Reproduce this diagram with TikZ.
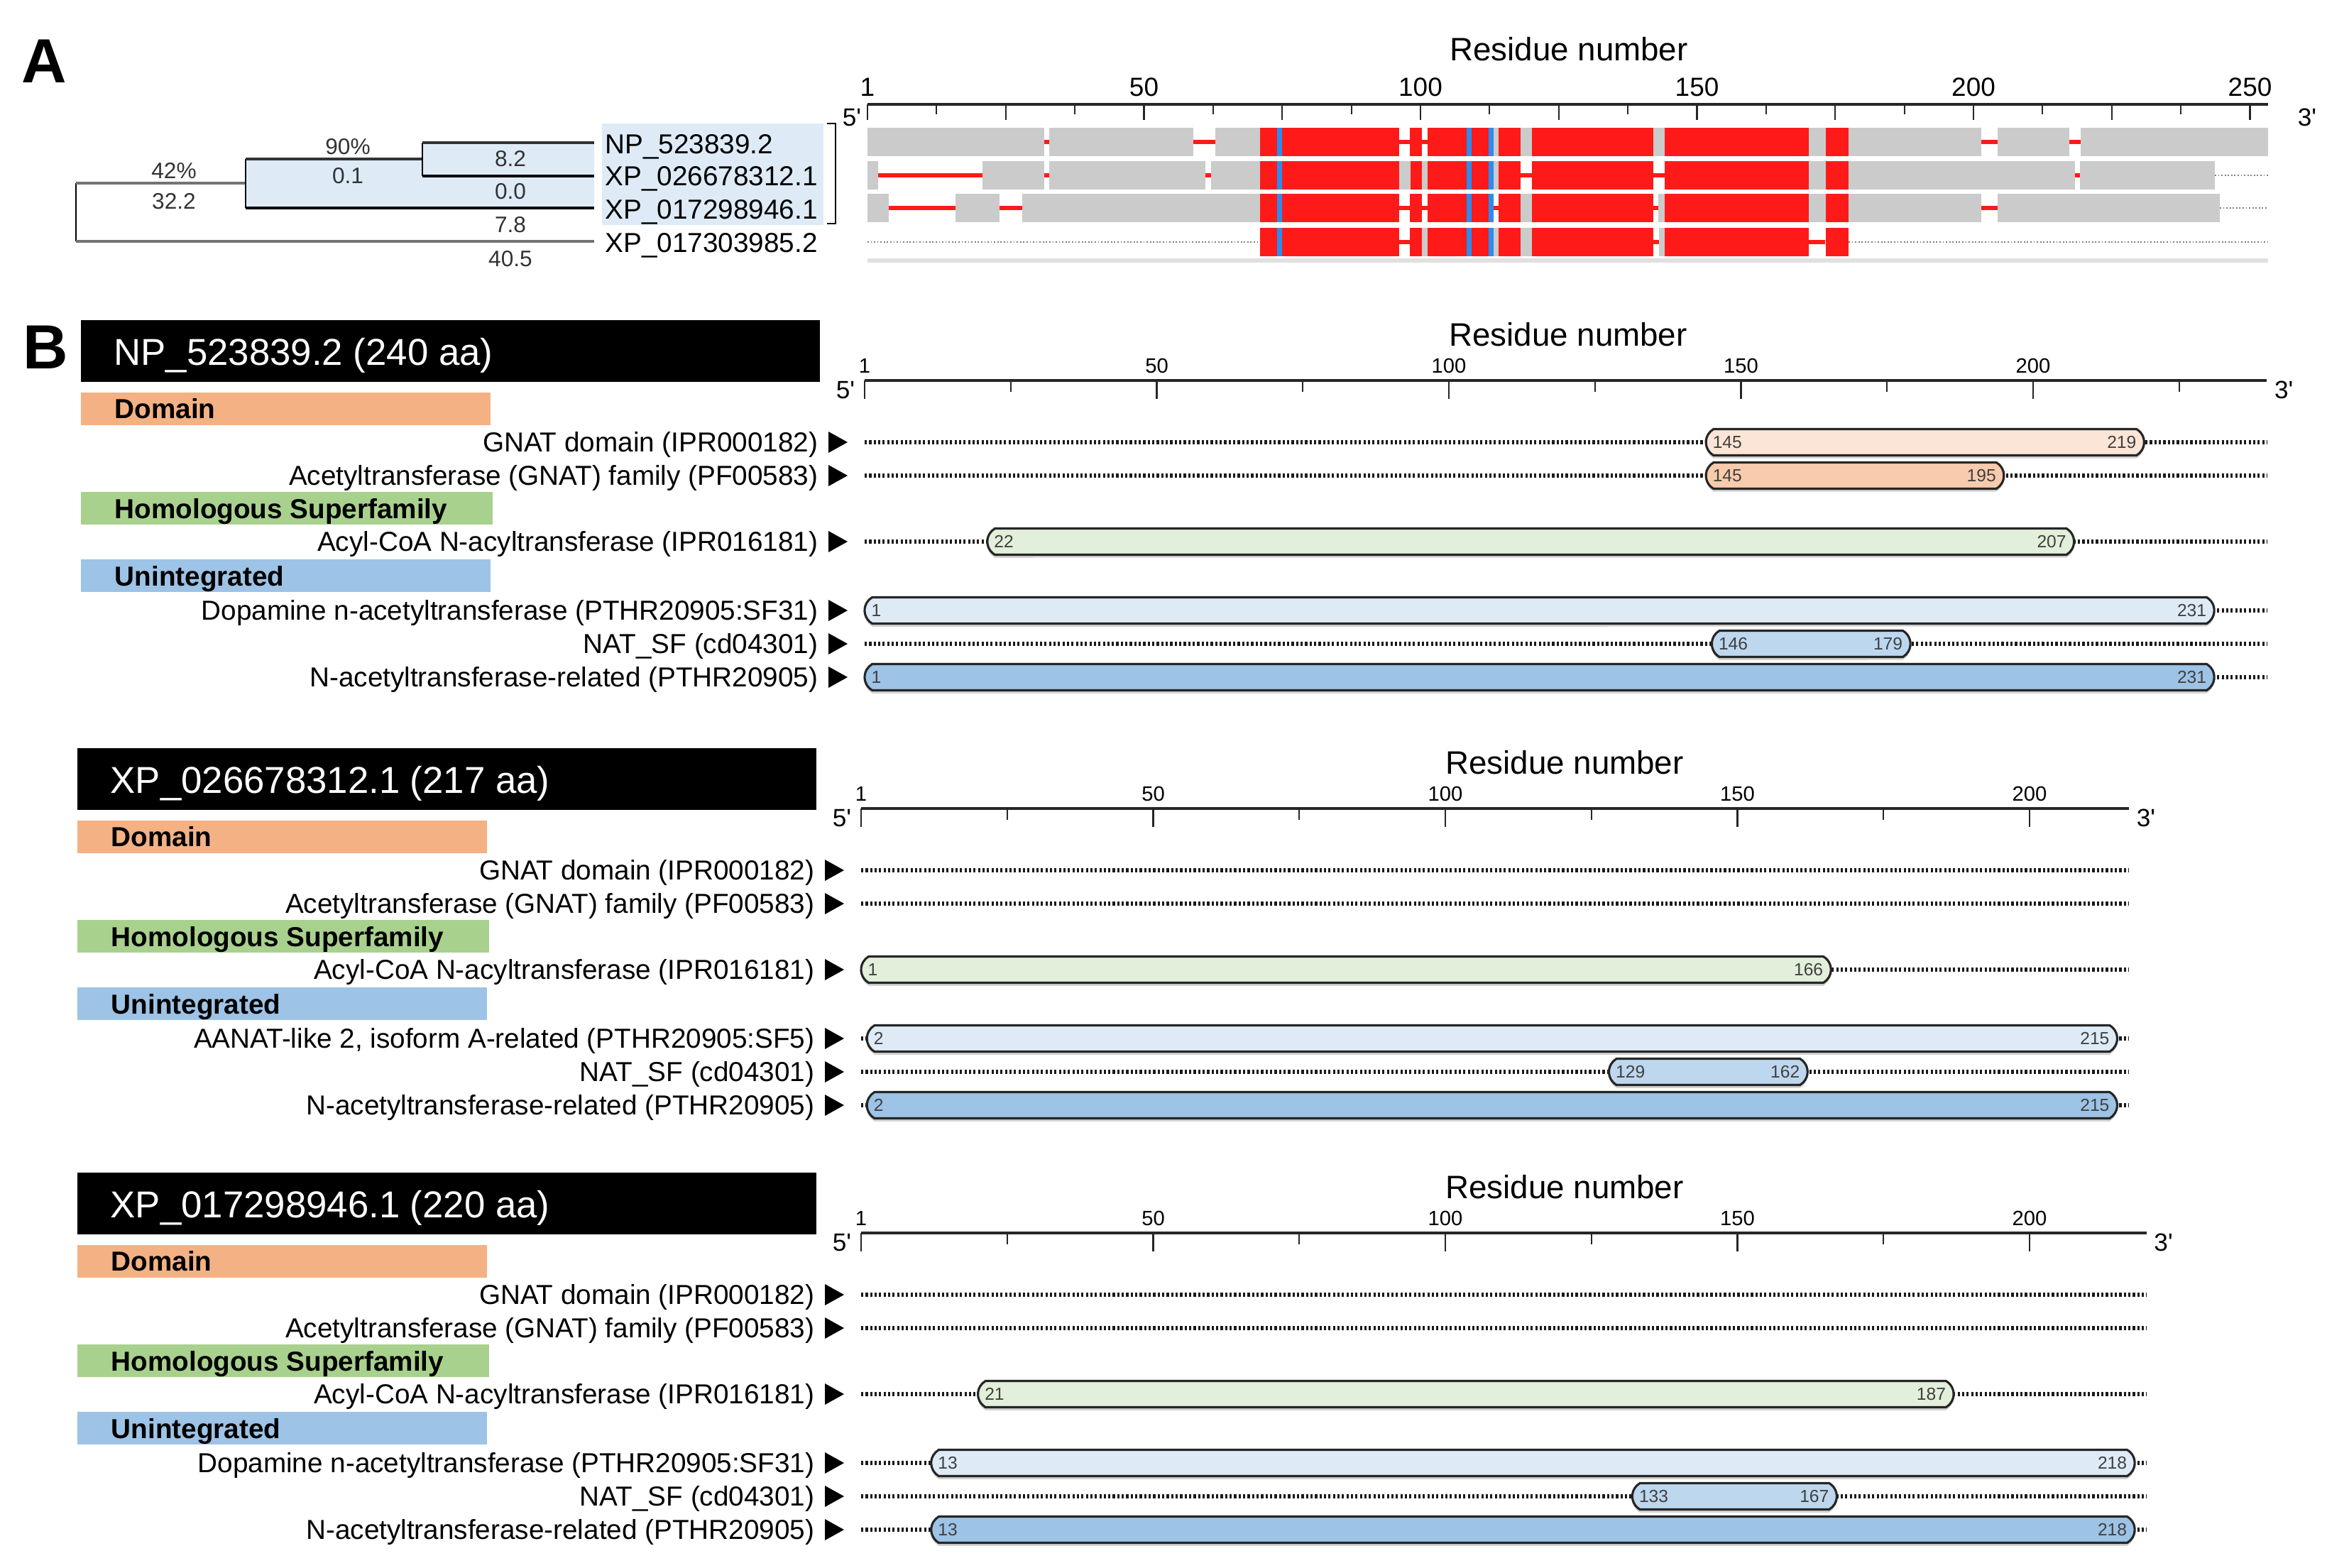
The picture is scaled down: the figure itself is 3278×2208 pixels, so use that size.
\documentclass[tikz,border=0pt]{standalone}
\usepackage{fontspec}
\setmainfont{Liberation Sans}
\usetikzlibrary{shapes.misc,shadows}

\definecolor{domorange}{HTML}{F4B183}
\definecolor{homgreen}{HTML}{A9D18E}
\definecolor{unblue}{HTML}{9DC3E6}
\definecolor{gnatbar}{HTML}{FBE5D6}
\definecolor{pfambar}{HTML}{F8CBAD}
\definecolor{acylbar}{HTML}{E2EFDA}
\definecolor{sfbar}{HTML}{DEEBF7}
\definecolor{natbar}{HTML}{BDD7EE}
\definecolor{pthrbar}{HTML}{9DC3E6}
\definecolor{alnred}{HTML}{FF1A1A}
\definecolor{alngray}{HTML}{CBCBCB}
\definecolor{alnblue}{HTML}{2B8CF0}
\definecolor{treeblue}{HTML}{DEEBF7}

\tikzset{
  txt/.style 2 args={font=\fontsize{#1}{#1}\selectfont, text height=#2, text depth=0pt, inner sep=0pt},
  letter/.style={txt={25}{17.9pt}, font=\fontsize{25}{25}\selectfont\bfseries},
  treelbl/.style={txt={11}{7.9pt}, anchor=west},
  brnum/.style={txt={9}{6.4pt}, text=black!80},
  head/.style={txt={15}{10.7pt}, text=white, anchor=west},
  cat/.style={txt={11}{7.9pt}, font=\fontsize{11}{11}\selectfont\bfseries, anchor=west},
  rowlbl/.style={txt={11}{7.9pt}, anchor=east},
  ticklbl/.style={txt={8.3}{5.9pt}},
  ticklblA/.style={txt={10.5}{7.5pt}},
  axtitle/.style={txt={13}{9.3pt}},
  endlbl/.style={txt={10}{7.2pt}},
  barnum/.style={txt={7}{5pt}, text=black!75},
  axisline/.style={line width=1.4pt, black!85},
  tick/.style={line width=0.6pt, black!85},
  track/.style={line width=1.5pt, black!90, dash pattern=on 0.9pt off 0.9pt},
  alndot/.style={line width=0.8pt, black!50, dash pattern=on 0.5pt off 0.8pt},
  bar/.style={rounded rectangle, rounded rectangle arc length=120, draw=black!85,
    line width=0.9pt, minimum height=0.37cm, inner sep=0pt,
    drop shadow={shadow xshift=0pt, shadow yshift=-1.2pt, fill=black!35}},
  brgray/.style={line width=1.3pt, black!55},
  brdark/.style={line width=1pt, black!80},
  brblack/.style={line width=0.9pt, black},
  brthin/.style={line width=0.6pt, black}
}

% one row of the alignment: y, grey blocks, gaps
\newcommand{\alnrow}[3]{%
  \foreach \a/\b in {#2} \fill[alngray] (\a,#1-20) rectangle (\b,#1+20);
  \foreach \a/\b in {#3} \fill[alnred] (\a,#1-3) rectangle (\b,#1+3);
  \foreach \x in {1802,2069,2100} \fill[alnblue] (\x-3.5,#1-20) rectangle (\x+3.5,#1+20);}

% header and category boxes of one protein
\newcommand{\protblock}[2]{%
  \fill (109,0) rectangle (1150,87);
  \node[head] (#1head) at (155,45) {#2};
  \fill[domorange] (109,102) rectangle (686,148);
  \node[cat] (#1dom) at (156,125) {Domain};
  \fill[homgreen] (109,242) rectangle (689,288);
  \node[cat] (#1hom) at (156,266) {Homologous Superfamily};
  \fill[unblue] (109,337) rectangle (686,383);
  \node[cat] (#1uni) at (156,361) {Unintegrated};}

% residue axis: prefix, length, last short tick
\newcommand{\resaxis}[3]{%
  \pgfmathsetmacro{\xe}{1213+8.23*#2}
  \node[axtitle] (#1title) at (2204,20) {Residue number};
  \coordinate (#1ax0) at (1213,85);
  \coordinate (#1ax1) at (\xe,85);
  \draw[axisline] (#1ax0) -- (#1ax1);
  \draw[tick] (#1ax0) -- ++(0,26);
  \foreach \r in {50,100,150,200} \draw[tick] (1213+8.23*\r,85) -- ++(0,26);
  \foreach \r in {25,75,...,#3} \draw[tick] (1213+8.23*\r,85) -- ++(0,16);
  \node[ticklbl] (#1t1) at (1213,64) {1};
  \foreach \r in {50,100,150,200} \node[ticklbl] (#1t\r) at (1213+8.23*\r,64) {\r};
  \node[endlbl] (#1five) at (1186,98) {5\textquotesingle};
  \node[endlbl] (#1three) at (\xe+24,98) {3\textquotesingle};}

% label, marker and dotted track of one row
\newcommand{\featrow}[4]{%
  \node[rowlbl] (#1) at (1148,#2) {#3};
  \fill (1162,#2-15) -- (1189,#2) -- (1162,#2+15) -- cycle;
  \coordinate (#1a) at (1213,#2);
  \coordinate (#1b) at (1213+8.23*#4,#2);
  \draw[track] (#1a) -- (#1b);}

% feature bar: name, y, first, last, colour
\newcommand{\feat}[5]{%
  \pgfmathsetmacro{\xa}{1213+8.23*(#3-1)}
  \pgfmathsetmacro{\xb}{1213+8.23*#4}
  \pgfmathsetmacro{\wbar}{0.01*(\xb-\xa)}
  \node[bar, fill=#5, minimum width=\wbar cm] (#1) at ({(\xa+\xb)/2},#2) {};
  \node[barnum, anchor=west] (#1s) at ([xshift=3pt]#1.west) {#3};
  \node[barnum, anchor=east] (#1e) at ([xshift=-3.4pt]#1.east) {#4};}

\begin{document}
\begin{tikzpicture}[x=0.01cm, y=-0.01cm]
\useasboundingbox (0,0) rectangle (3278,2208);

\node[letter] (pA) at (62,85) {A};
\node[letter] (pB) at (64,488) {B};

% A: tree
\fill[treeblue] (346,224) -- (595,224) -- (595,201) -- (837,201) -- (837,293) -- (346,293) -- cycle;
\fill[treeblue] (848,174) rectangle (1160,317);
\coordinate (n0) at (107,258);
\coordinate (n0b) at (107,340);
\coordinate (n1) at (346,258);
\coordinate (n2) at (595,224);
\coordinate (e1) at (837,201);
\coordinate (e2) at (837,248);
\coordinate (e3) at (837,293);
\coordinate (e4) at (837,340);
\draw[brthin] (n0) -- (n0b);
\draw[brgray] (n0) -- (n1);
\draw[brgray] (n0b) -- (e4);
\draw[brthin] (n1 |- n2) -- (n1 |- e3);
\draw[brdark] (n1 |- n2) -- (n2);
\draw[brblack] (n1 |- e3) -- (e3);
\draw[brthin] (n2 |- e1) -- (n2 |- e2);
\draw[brdark] (n2 |- e1) -- (e1);
\draw[brblack] (n2 |- e2) -- (e2);
\node[treelbl] (t1) at (852,203) {NP\_523839.2};
\node[treelbl] (t2) at (852,248) {XP\_026678312.1};
\node[treelbl] (t3) at (852,295) {XP\_017298946.1};
\node[treelbl] (t4) at (852,342) {XP\_017303985.2};
\node[brnum] (b1) at (245,240) {42\%};
\node[brnum] (b2) at (245,283) {32.2};
\node[brnum] (b3) at (490,206) {90\%};
\node[brnum] (b4) at (490,247) {0.1};
\node[brnum] (b5) at (719,223) {8.2};
\node[brnum] (b6) at (719,269) {0.0};
\node[brnum] (b7) at (719,316) {7.8};
\node[brnum] (b8) at (719,364) {40.5};
\draw[line width=0.8pt] (1165,174) -- (1177,174) -- (1177,315) -- (1165,315);

% A: axis
\node[axtitle] (atitle) at (2210,69) {Residue number};
\coordinate (aax0) at (1222,147);
\coordinate (aax1) at (3195,147);
\draw[axisline] (aax0) -- (aax1);
\foreach \r in {0,25,...,250} \draw[tick] (1222+7.79*\r,147) -- ++(0,22);
\foreach \r in {12.5,37.5,...,240} \draw[tick] (1222+7.79*\r,147) -- ++(0,14);
\node[ticklblA] (at1) at (1222,122) {1};
\foreach \r in {50,100,...,250} \node[ticklblA] (at\r) at (1222+7.79*\r,122) {\r};
\node[endlbl] (afive) at (1200,165) {5\textquotesingle};
\node[endlbl] (athree) at (3250,165) {3\textquotesingle};

% A: alignment
\foreach \y in {200,247,293,341}
  \foreach \a/\b in {1775/1971,1986/2003,2011/2103,2111/2142,2158/2329,2345/2548,2572/2604}
    \fill[alnred] (\a,\y-20) rectangle (\b,\y+20);
\alnrow{200}{1222/1471,1478/1681,1712/1775,2103/2111,2142/2158,2329/2345,2548/2572,2604/2791,2814/2915,2931/3195}
  {1471/1478,1681/1712,1971/1986,2003/2011,2791/2814,2915/2931}
\alnrow{247}{1222/1237,1384/1471,1478/1698,1706/1775,1971/1987,2003/2011,2103/2111,2548/2572,2604/2923,2930/3120}
  {1237/1384,1471/1478,1698/1706,2142/2158,2329/2345,2923/2930}
\alnrow{293}{1222/1252,1346/1408,1440/1775,2142/2158,2336/2345,2548/2572,2604/2791,2814/3127}
  {1252/1346,1408/1440,1971/1986,2003/2011,2103/2111,2329/2336,2791/2814}
\alnrow{341}{2003/2011,2103/2111,2142/2158,2337/2345}
  {1971/1986,2329/2337,2548/2571}
\draw[alndot] (3120,247) -- (3195,247);
\draw[alndot] (3127,293) -- (3195,293);
\draw[alndot] (1222,341) -- (1775,341);
\draw[alndot] (2604,341) -- (3195,341);
\draw[black!12, line width=1.5pt] (1222,367) -- (3195,367);

% B: NP_523839.2
\begin{scope}[shift={(5,451)}]
\protblock{s1}{NP\_523839.2 (240 aa)}
\resaxis{s1}{240}{225}
\featrow{s1r1}{172}{GNAT domain (IPR000182)}{240}
\featrow{s1r2}{219}{Acetyltransferase (GNAT) family (PF00583)}{240}
\featrow{s1r3}{312}{Acyl-CoA N-acyltransferase (IPR016181)}{240}
\featrow{s1r4}{409}{Dopamine n-acetyltransferase (PTHR20905:SF31)}{240}
\featrow{s1r5}{456}{NAT\_SF (cd04301)}{240}
\featrow{s1r6}{503}{N-acetyltransferase-related (PTHR20905)}{240}
\feat{s1b1}{172}{145}{219}{gnatbar}
\feat{s1b2}{219}{145}{195}{pfambar}
\feat{s1b3}{312}{22}{207}{acylbar}
\feat{s1b4}{409}{1}{231}{sfbar}
\feat{s1b5}{456}{146}{179}{natbar}
\feat{s1b6}{503}{1}{231}{pthrbar}
\end{scope}

% B: XP_026678312.1
\begin{scope}[shift={(0,1054)}]
\protblock{s2}{XP\_026678312.1 (217 aa)}
\resaxis{s2}{217}{175}
\featrow{s2r1}{172}{GNAT domain (IPR000182)}{217}
\featrow{s2r2}{219}{Acetyltransferase (GNAT) family (PF00583)}{217}
\featrow{s2r3}{312}{Acyl-CoA N-acyltransferase (IPR016181)}{217}
\featrow{s2r4}{409}{AANAT-like 2, isoform A-related (PTHR20905:SF5)}{217}
\featrow{s2r5}{456}{NAT\_SF (cd04301)}{217}
\featrow{s2r6}{503}{N-acetyltransferase-related (PTHR20905)}{217}
\feat{s2b3}{312}{1}{166}{acylbar}
\feat{s2b4}{409}{2}{215}{sfbar}
\feat{s2b5}{456}{129}{162}{natbar}
\feat{s2b6}{503}{2}{215}{pthrbar}
\end{scope}

% B: XP_017298946.1
\begin{scope}[shift={(0,1652)}]
\protblock{s3}{XP\_017298946.1 (220 aa)}
\resaxis{s3}{220}{175}
\featrow{s3r1}{172}{GNAT domain (IPR000182)}{220}
\featrow{s3r2}{219}{Acetyltransferase (GNAT) family (PF00583)}{220}
\featrow{s3r3}{312}{Acyl-CoA N-acyltransferase (IPR016181)}{220}
\featrow{s3r4}{409}{Dopamine n-acetyltransferase (PTHR20905:SF31)}{220}
\featrow{s3r5}{456}{NAT\_SF (cd04301)}{220}
\featrow{s3r6}{503}{N-acetyltransferase-related (PTHR20905)}{220}
\feat{s3b3}{312}{21}{187}{acylbar}
\feat{s3b4}{409}{13}{218}{sfbar}
\feat{s3b5}{456}{133}{167}{natbar}
\feat{s3b6}{503}{13}{218}{pthrbar}
\end{scope}
\end{tikzpicture}
\end{document}
